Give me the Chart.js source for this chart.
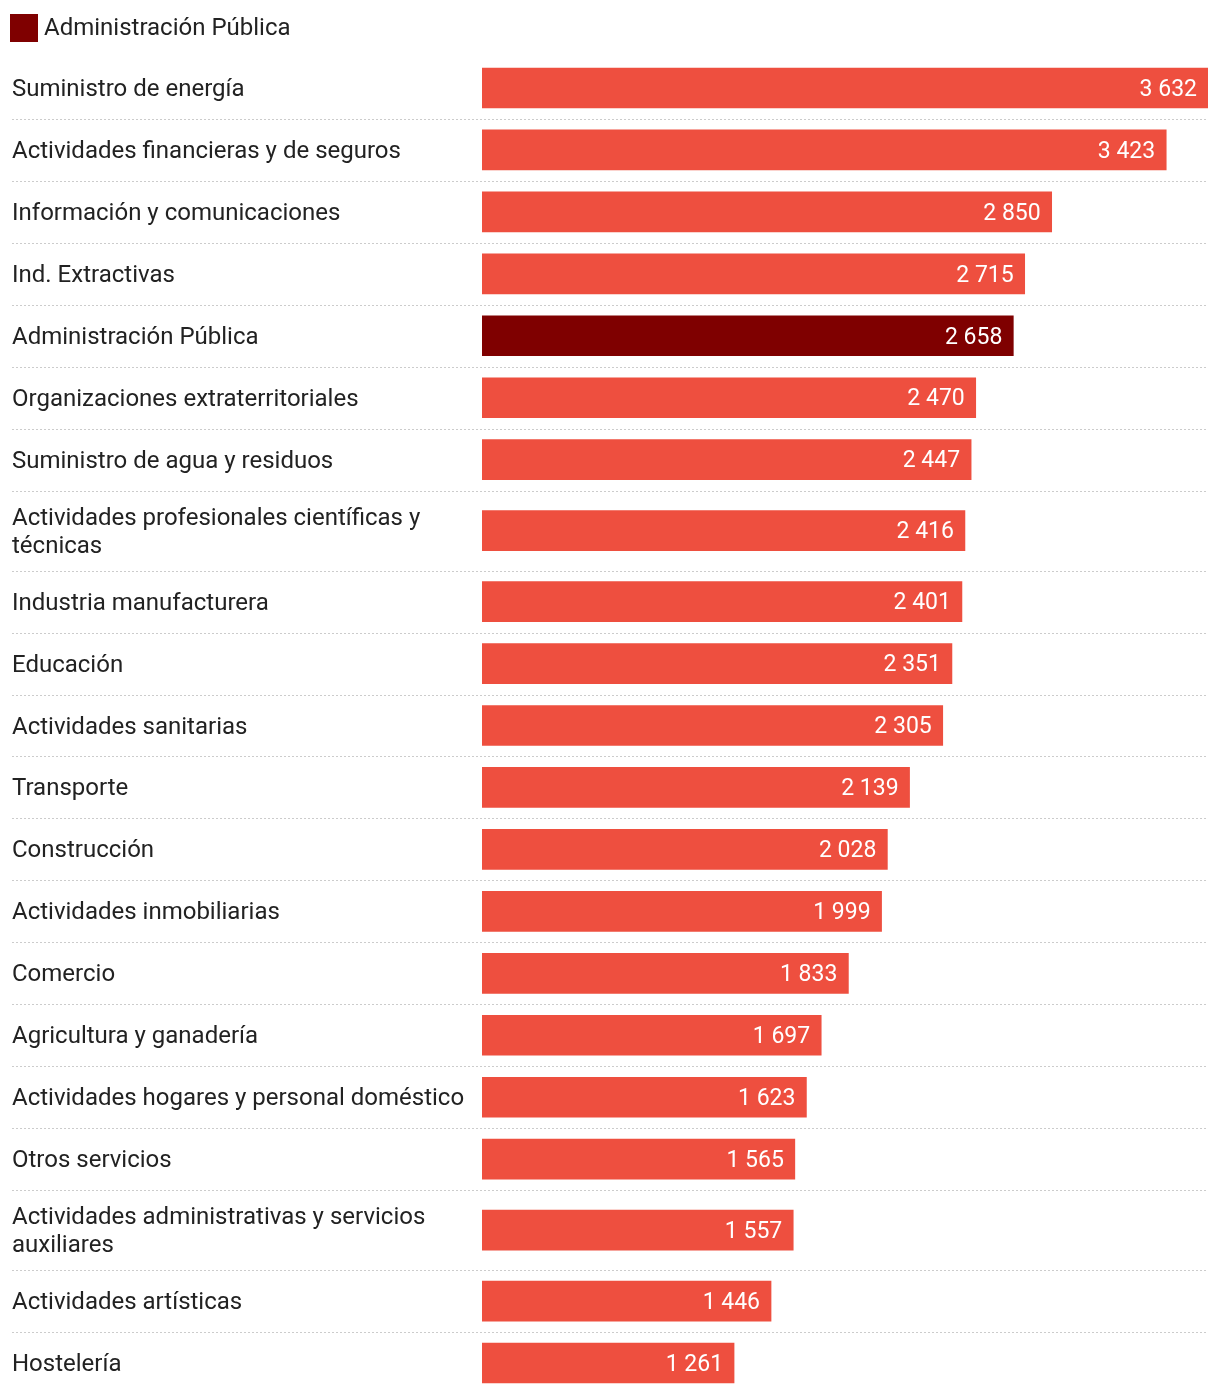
<!DOCTYPE html>
<html lang="es">
<head>
<meta charset="utf-8">
<title>Salario por sector</title>
<script src="https://cdn.jsdelivr.net/npm/chart.js@4/dist/chart.umd.min.js"></script>
<style>
  html, body { margin: 0; padding: 0; background: #fff; }
  .chart-wrap { position: relative; width: 1220px; height: 1394px; }
</style>
</head>
<body>
<div class="chart-wrap"><canvas id="salaryChart"></canvas></div>
<script>
const categories = [
  'Suministro de energía',
  'Actividades financieras y de seguros',
  'Información y comunicaciones',
  'Ind. Extractivas',
  'Administración Pública',
  'Organizaciones extraterritoriales',
  'Suministro de agua y residuos',
  'Actividades profesionales científicas y técnicas',
  'Industria manufacturera',
  'Educación',
  'Actividades sanitarias',
  'Transporte',
  'Construcción',
  'Actividades inmobiliarias',
  'Comercio',
  'Agricultura y ganadería',
  'Actividades hogares y personal doméstico',
  'Otros servicios',
  'Actividades administrativas y servicios auxiliares',
  'Actividades artísticas',
  'Hostelería'
];
const values = [3632, 3423, 2850, 2715, 2658, 2470, 2447, 2416, 2401, 2351, 2305, 2139, 2028, 1999, 1833, 1697, 1623, 1565, 1557, 1446, 1261];
const highlight = 'Administración Pública';

const FONT = '24px Roboto, "Noto Sans", sans-serif';
const VALUE_FONT = '23px Roboto, "Noto Sans", sans-serif';
const TEXT = '#222222';
const BAR = '#ee4f3f';
const BAR_HL = '#7f0000';
const LABEL_MAX = 460;
const TEXT_NUDGE = 2; // canvas 'middle' sits a bit high for Roboto

// wrap the category labels to the left column width
const measure = document.createElement('canvas').getContext('2d');
measure.font = FONT;
function wrap(text) {
  const lines = [];
  let line = '';
  text.split(' ').forEach((word) => {
    const test = line ? line + ' ' + word : word;
    if (line && measure.measureText(test).width > LABEL_MAX) {
      lines.push(line);
      line = word;
    } else {
      line = test;
    }
  });
  lines.push(line);
  return lines;
}
const labelLines = categories.map(wrap);

// row heights grow with the number of label lines
const rowTop = [];
const rowCenter = [];
let total = 0;
labelLines.forEach((lines) => {
  const h = 44 + lines.length * 18;
  rowTop.push(total);
  rowCenter.push(total + h / 2);
  total += h;
});

const fmt = (v) => String(v).replace(/\B(?=(\d{3})+(?!\d))/g, ' ');

const rowsPlugin = {
  id: 'rows',
  beforeDatasetsDraw(chart) {
    const { ctx, scales: { y } } = chart;
    ctx.save();
    ctx.strokeStyle = '#cccccc';
    ctx.lineWidth = 1;
    ctx.setLineDash([2, 2]);
    for (let i = 1; i < rowTop.length; i++) {
      const py = Math.round(y.getPixelForValue(rowTop[i])) + 0.5;
      ctx.beginPath();
      ctx.moveTo(12, py);
      ctx.lineTo(1208, py);
      ctx.stroke();
    }
    ctx.restore();
  },
  afterDatasetsDraw(chart) {
    const { ctx, scales: { y } } = chart;
    const meta = chart.getDatasetMeta(0);
    ctx.save();
    ctx.textBaseline = 'middle';
    labelLines.forEach((lines, i) => {
      const cy = y.getPixelForValue(rowCenter[i]) + TEXT_NUDGE;
      ctx.font = FONT;
      ctx.fillStyle = TEXT;
      ctx.textAlign = 'left';
      lines.forEach((ln, k) => {
        ctx.fillText(ln, 12, cy + (k - (lines.length - 1) / 2) * 28);
      });
      const bar = meta.data[i];
      ctx.font = VALUE_FONT;
      ctx.fillStyle = '#ffffff';
      ctx.textAlign = 'right';
      ctx.fillText(fmt(values[i]), bar.x - 11, bar.y + TEXT_NUDGE);
    });
    // legend
    ctx.font = FONT;
    ctx.fillStyle = BAR_HL;
    ctx.fillRect(10, 14, 28, 28);
    ctx.fillStyle = TEXT;
    ctx.textAlign = 'left';
    ctx.fillText(highlight, 44, 27 + TEXT_NUDGE);
    ctx.restore();
  }
};

new Chart(document.querySelector('#salaryChart'), {
  type: 'bar',
  data: {
    datasets: [{
      label: highlight,
      data: values.map((v, i) => ({ x: v, y: rowCenter[i] })),
      backgroundColor: categories.map((c) => (c === highlight ? BAR_HL : BAR)),
      barThickness: 40,
      borderWidth: 0
    }]
  },
  options: {
    indexAxis: 'y',
    responsive: true,
    maintainAspectRatio: false,
    animation: false,
    layout: { padding: { left: 482, right: 12, top: 57, bottom: 0 } },
    plugins: { legend: { display: false }, tooltip: { enabled: false } },
    scales: {
      x: { type: 'linear', min: 0, max: Math.max(...values), display: false, offset: false },
      y: { type: 'linear', min: 0, max: total, reverse: true, display: false, offset: false }
    }
  },
  plugins: [rowsPlugin]
});
</script>
</body>
</html>
